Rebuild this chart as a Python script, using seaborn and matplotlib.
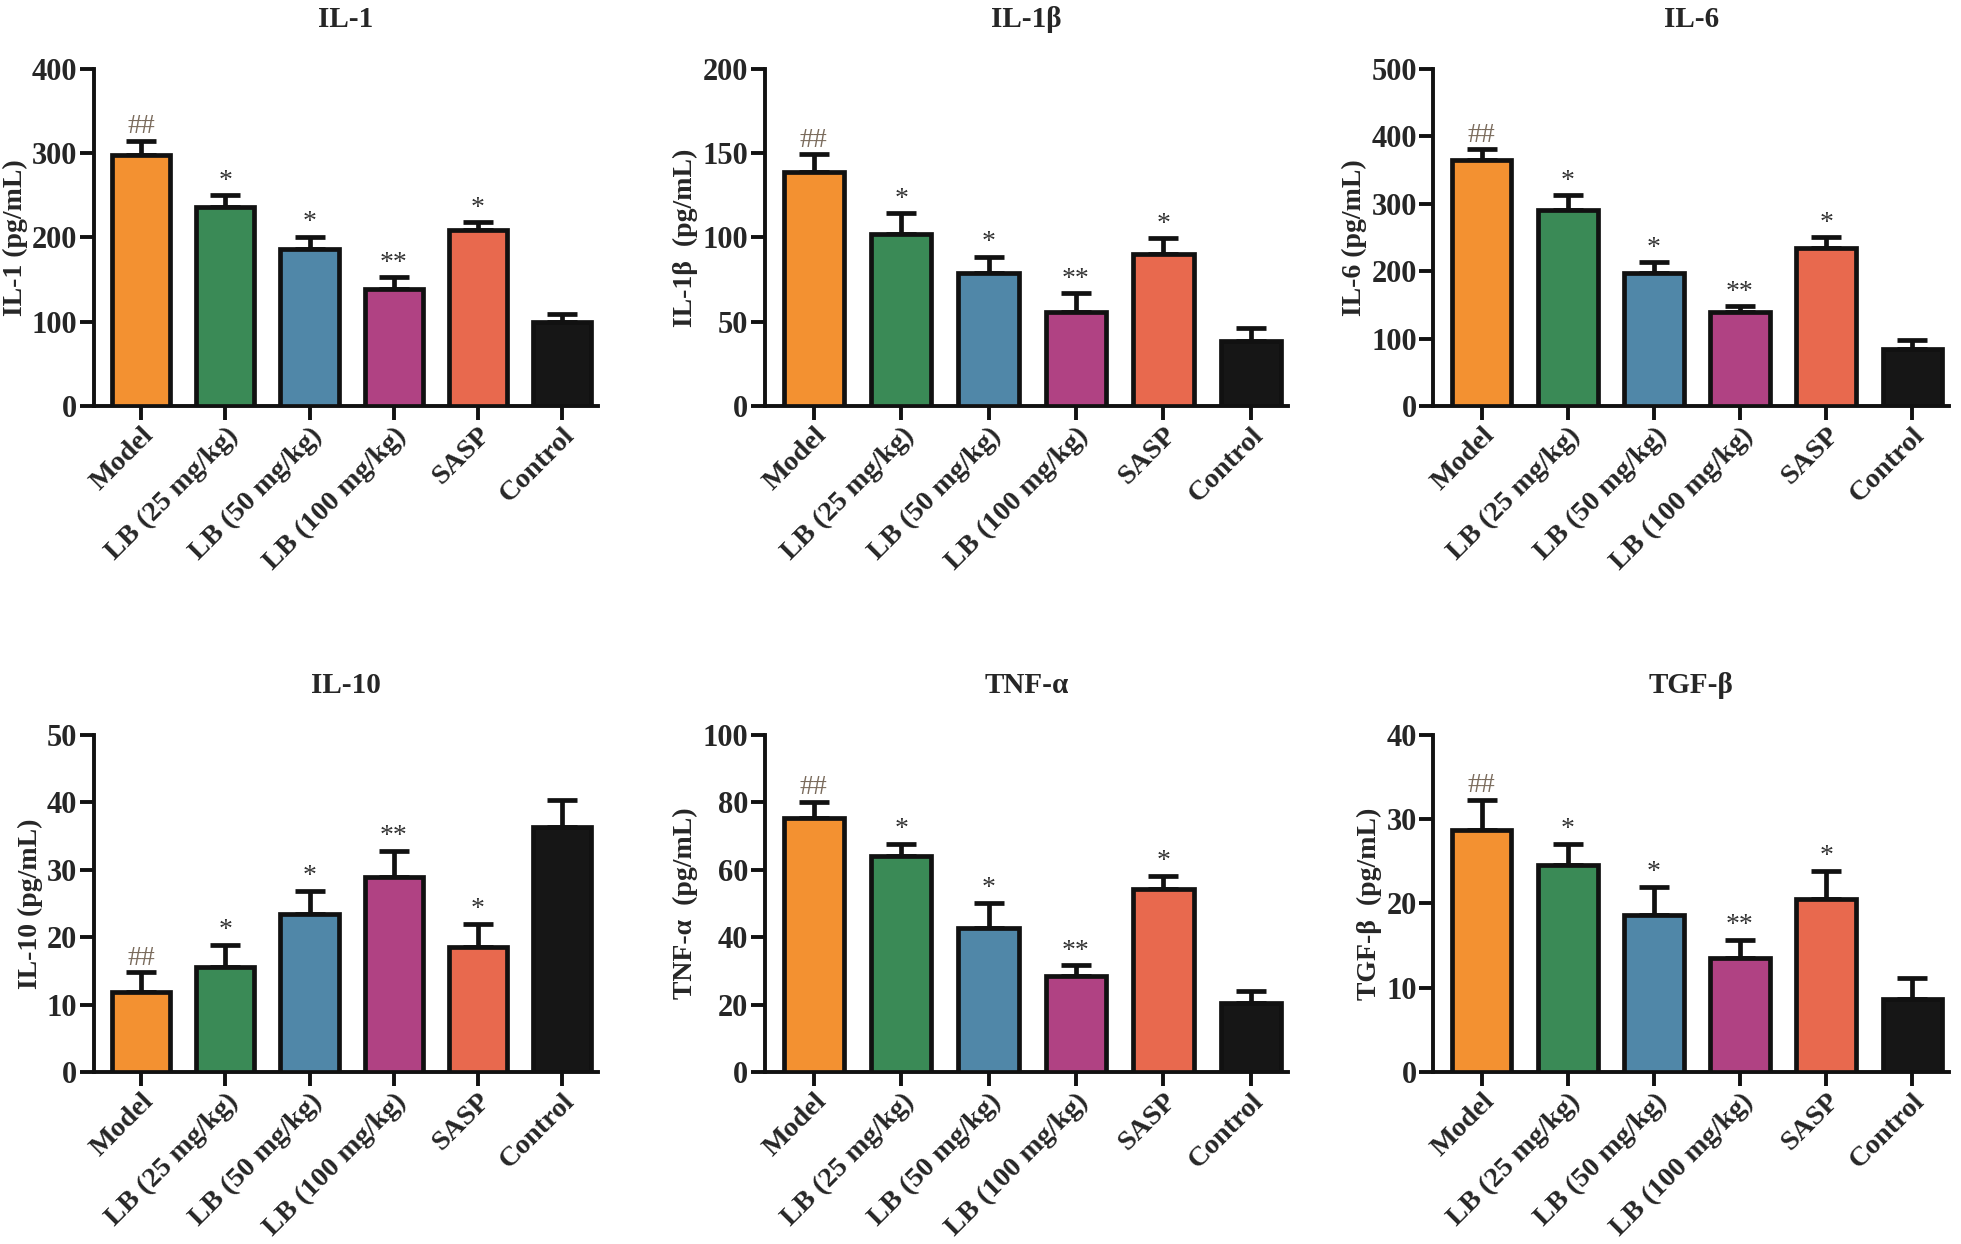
import numpy as np
import pandas as pd
import seaborn as sns
import matplotlib.pyplot as plt

# Groups and colours
groups = ['Model', 'LB (25 mg/kg)', 'LB (50 mg/kg)', 'LB (100 mg/kg)', 'SASP', 'Control']
colors = ['#F39131', '#3A8A56', '#5087A8', '#B04283', '#E8694E', '#161616']

# Means and upper error (SD)
il1_mean = [298, 236, 186, 139, 209, 100]
il1_err = [17, 14, 15, 14, 9, 9]
il1b_mean = [139, 102, 79, 56, 90, 38.6]
il1b_err = [10.5, 12.5, 9.5, 11, 9.5, 7.5]
il6_mean = [365, 291, 197, 140, 234, 84]
il6_err = [16, 22, 16, 8, 16, 14]
il10_mean = [11.9, 15.6, 23.5, 28.9, 18.6, 36.3]
il10_err = [2.9, 3.3, 3.4, 3.9, 3.4, 4.0]
tnf_mean = [75.3, 64.0, 42.7, 28.5, 54.3, 20.6]
tnf_err = [4.9, 3.7, 7.5, 3.2, 3.9, 3.3]
tgf_mean = [28.7, 24.6, 18.6, 13.5, 20.5, 8.6]
tgf_err = [3.6, 2.5, 3.4, 2.2, 3.4, 2.5]

# significance marks
marks = ['##', '*', '*', '**', '*', '']

panels = [
    ('IL-1', 'IL-1 (pg/mL)', il1_mean, il1_err, 400, 100),
    ('IL-1β', 'IL-1β  (pg/mL)', il1b_mean, il1b_err, 200, 50),
    ('IL-6', 'IL-6 (pg/mL)', il6_mean, il6_err, 500, 100),
    ('IL-10', 'IL-10 (pg/mL)', il10_mean, il10_err, 50, 10),
    ('TNF-α', 'TNF-α  (pg/mL)', tnf_mean, tnf_err, 100, 20),
    ('TGF-β', 'TGF-β  (pg/mL)', tgf_mean, tgf_err, 40, 10),
]

sns.set_style('ticks')
plt.rcParams['font.family'] = ['Liberation Serif', 'DejaVu Serif']
plt.rcParams['font.weight'] = 'bold'
plt.rcParams['axes.labelweight'] = 'bold'
plt.rcParams['axes.titleweight'] = 'bold'

fig = plt.figure(figsize=(19.61, 12.44), dpi=100)

lefts = [0.048, 0.39, 0.731]
widths = [0.257, 0.267, 0.263]
bottoms = [0.6736, 0.1383]
height = 0.271

for i, (title, ylabel, mean, err, ymax, step) in enumerate(panels):
    r, c = divmod(i, 3)
    ax = fig.add_axes([lefts[c], bottoms[r], widths[c], height])
    df = pd.DataFrame({'group': groups, 'value': mean})
    sns.barplot(data=df, x='group', y='value', hue='group', palette=colors,
                order=groups, hue_order=groups, legend=False, errorbar=None,
                saturation=1, width=0.69, edgecolor='#111111', linewidth=3.4,
                ax=ax, zorder=3)
    x = np.arange(len(groups))
    ax.errorbar(x, mean, yerr=[np.zeros(len(err)), err], fmt='none',
                ecolor='#111111', elinewidth=3.4, capsize=11, capthick=3.4, zorder=2)
    for xi, m, e, mk in zip(x, mean, err, marks):
        if not mk:
            continue
        col = '#7a6b5c' if mk == '##' else '#333333'
        ax.annotate(mk, (xi, m + e), xytext=(0, 1), textcoords='offset points',
                    ha='center', va='bottom', fontsize=20, fontweight='normal', color=col)
    ax.set_xlim(-0.56, 5.43)
    ax.set_ylim(0, ymax)
    ax.set_yticks(np.arange(0, ymax + step / 2, step))
    ax.set_title(title, fontsize=21, fontweight='bold', pad=30)
    ax.set_ylabel(ylabel, fontsize=20, fontweight='bold', labelpad=3)
    ax.set_xlabel('')
    ax.set_xticks(x)
    ax.set_xticklabels(groups, rotation=45, ha='right', rotation_mode='anchor',
                       fontsize=20.5, fontweight='bold')
    for lab in ax.get_yticklabels():
        lab.set_fontsize(22)
        lab.set_fontweight('bold')
    sns.despine(ax=ax)
    for s in ['left', 'bottom']:
        ax.spines[s].set_linewidth(2.8)
        ax.spines[s].set_color('#111111')
    ax.tick_params(axis='both', direction='out', length=10, width=2.8, color='#111111', pad=2)

fig.savefig('out.png', dpi=100, facecolor='white')
